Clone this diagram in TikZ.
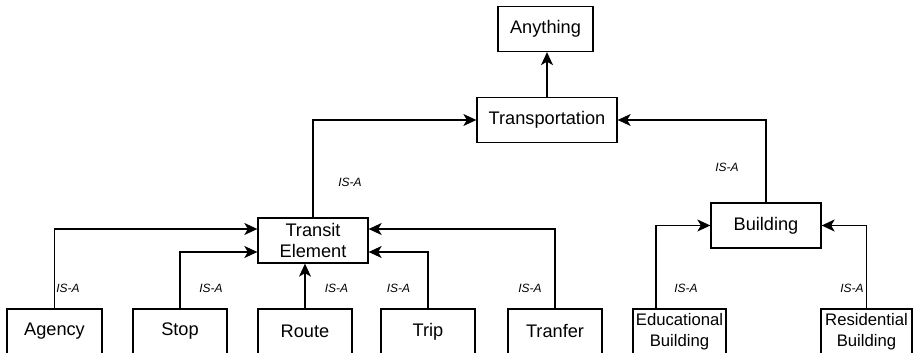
\documentclass[tikz,border=0pt]{standalone}
\usepackage{fontspec}
\setmainfont{Liberation Sans}
\usepackage{tikz}
\usetikzlibrary{arrows.meta,positioning}

\begin{document}
\begin{tikzpicture}[x=1pt,y=-1pt,
    box/.style={draw, line width=1.3pt, minimum height=45pt, inner sep=0pt,
        align=center, font=\fontsize{18.2}{21.5}\selectfont},
    smallbox/.style={box, font=\fontsize{16.7}{21.5}\selectfont},
    isa/.style={font=\fontsize{12}{14}\selectfont\itshape},
    link/.style={line width=1.3pt, -{Stealth[length=13pt,width=12pt,inset=3.5pt]}}]
    \useasboundingbox (0,0) rectangle (913,353);
    \clip (0,0) rectangle (913,353);

    % Top of the hierarchy
    \node[box, minimum width=95pt] (anything) at (545.5,29) {Anything};
    \node[box, minimum width=140pt] (transp) at (547,120) {Transportation};

    % Middle level
    \node[box, minimum width=110pt] (transit) at (313,240.5) {Transit\\Element};
    \node[box, minimum width=110pt] (building) at (766,225.5) {Building};

    % Leaves (cut off at the bottom)
    \node[box, minimum width=95pt] (agency) at (54.5,331.5) {Agency};
    \node[box, minimum width=94pt] (stop) at (180,331.5) {Stop};
    \node[box, minimum width=94pt] (route) at (305,331.5) {Route};
    \node[box, minimum width=94pt] (trip) at (428,331.5) {Trip};
    \node[box, minimum width=94pt] (tranfer) at (555,331.5) {Tranfer};
    \node[smallbox, minimum width=93pt] (edu) at (679.5,331.5) {Educational\\Building};
    \node[smallbox, minimum width=91pt] (resid) at (866.5,331.5) {Residential\\Building};

    % IS-A links
    \draw[link] (transp.north) -- (transp.north |- anything.south);
    \draw[link] (transit.north) |- (transp.west);
    \draw[link] (building.north) |- (transp.east);
    \draw[link] (agency.north) |- ([yshift=11.5pt]transit.west);
    \draw[link] (stop.north) |- ([yshift=-11.5pt]transit.west);
    \draw[link] (route.north) -- (route.north |- transit.south);
    \draw[link] (trip.north) |- ([yshift=-11.5pt]transit.east);
    \draw[link] (tranfer.north) |- ([yshift=11.5pt]transit.east);
    \draw[link] ([xshift=-23.5pt]edu.north) |- (building.west);
    \draw[link] (resid.north) |- (building.east);

    % Labels
    \node[isa] (isa1) at (350,182) {IS-A};
    \node[isa] (isa2) at (727,167) {IS-A};
    \node[isa] (isa3) at (68,288) {IS-A};
    \node[isa] (isa4) at (211,288) {IS-A};
    \node[isa] (isa5) at (336.5,288) {IS-A};
    \node[isa] (isa6) at (398.5,288) {IS-A};
    \node[isa] (isa7) at (530,288) {IS-A};
    \node[isa] (isa8) at (686,288) {IS-A};
    \node[isa] (isa9) at (852,288) {IS-A};
\end{tikzpicture}
\end{document}
